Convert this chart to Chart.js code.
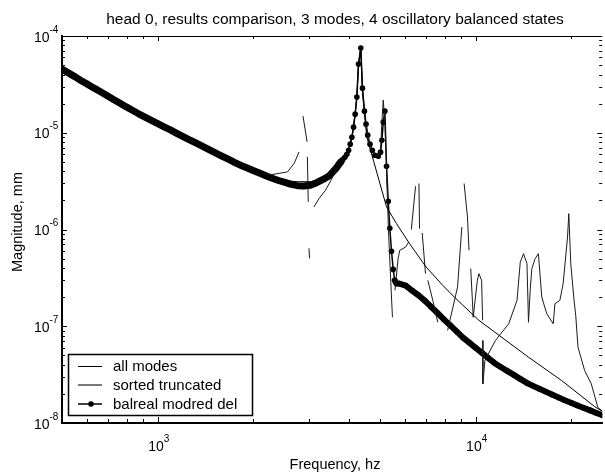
<!DOCTYPE html>
<html>
<head>
<meta charset="utf-8">
<script src="https://cdn.jsdelivr.net/npm/chart.js@4/dist/chart.umd.min.js"></script>
<style>
html,body{margin:0;padding:0;background:#fff;}
#wrap{width:605px;height:475px;position:relative;overflow:hidden;}
</style>
</head>
<body>
<div id="wrap"><canvas id="c" width="605" height="475"></canvas></div>
<script>
// ---------------- data ----------------
const chartTitle = 'head 0, results comparison, 3 modes, 4 oscillatory balanced states';
const xAxisTitle = 'Frequency, hz';
const yAxisTitle = 'Magnitude, mm';
const seriesNames = ['all modes', 'sorted truncated', 'balreal modred del'];

// x tick labels 10^3, 10^4 ; y tick labels 10^-4 .. 10^-8
const xTickValues = [1000, 10000];
const xTickExps = ['3', '4'];
const yTickValues = [1e-4, 1e-5, 1e-6, 1e-7, 1e-8];
const yTickExps = ['-4', '-5', '-6', '-7', '-8'];
const xMinorTicks = [600, 700, 800, 900, 2000, 3000, 4000, 5000, 6000, 7000, 8000, 9000, 20000];
const yMinorTicks = [2e-8,3e-8,4e-8,5e-8,6e-8,7e-8,8e-8,9e-8,
                     2e-7,3e-7,4e-7,5e-7,6e-7,7e-7,8e-7,9e-7,
                     2e-6,3e-6,4e-6,5e-6,6e-6,7e-6,8e-6,9e-6,
                     2e-5,3e-5,4e-5,5e-5,6e-5,7e-5,8e-5,9e-5];

// "all modes"
const freqAll = [500,661,1000,1585,2089,2291,2512,2754,3020,3311,3631,3824,3985,4080,4178,4229,4281,4352,
  4405,4469,4543,4767,4998,5244,5634,6197,6986,7877,8664,10240,14660,18630,23650,25120];
const magAll = [4.53e-5,2.65e-5,1.24e-5,5.78e-6,3.83e-6,3.47e-6,3.19e-6,3.12e-6,3.12e-6,3.29e-6,4.26e-6,5.33e-6,6.60e-6,9.00e-6,1.557e-5,2.336e-5,5.13e-5,7.51e-5,
  2.63e-5,1.63e-5,9.07e-6,5.20e-6,2.99e-6,1.71e-6,1.151e-6,7.14e-7,4.09e-7,2.65e-7,1.93e-7,1.15e-7,4.79e-8,2.75e-8,1.48e-8,1.31e-8];

// "sorted truncated" (null = break in the drawn line)
const freqSorted = [500,661,1000,1585,2089,2270,2559,2685,2783,2820,2864,2950,2952,2956,2975,2982,2990,3003,3050,
  3099,3219,3368,3509,3664,3824,3936,4031,4080,4130,4178,4229,4281,4352,4405,4469,4520,4576,4652,4732,4821,4940,
  5022,5070,5121,5188,5244,5318,5408,5474,5520,5573,5703,5769,6024,6155,6210,6275,6471,6550,6631,6660,6720,
  6790,6953,7010,7072,7331,7598,7900,8161,8770,9046,9120,9196,9422,9530,9590,9647,9766,9822,10123,10240,10440,
  10515,10518,10522,10537,10690,11540,12700,13490,13810,14140,14500,14660,14840,15020,15380,15750,16140,16730,
  17540,17750,18400,18840,19450,19630,19910,20390,20640,20980,22010,23100,24220,25120];
const magSorted = [4.53e-5,2.65e-5,1.24e-5,5.78e-6,3.83e-6,3.68e-6,3.94e-6,4.81e-6,6.34e-6,null,1.485e-5,8.05e-6,null,5.63e-6,1.93e-6,null,6.39e-7,5.03e-7,null,
  1.71e-6,2.10e-6,2.54e-6,3.23e-6,4.41e-6,5.33e-6,6.00e-6,7.62e-6,9.00e-6,1.143e-5,1.557e-5,2.336e-5,5.13e-5,7.51e-5,2.89e-5,1.673e-5,1.227e-5,9.45e-6,7.62e-6,6.60e-6,5.86e-6,5.73e-6,
  6.60e-6,1.287e-5,2.175e-5,1.198e-5,4.10e-6,9.81e-7,2.86e-7,1.24e-7,null,2.35e-7,5.00e-7,6.09e-7,6.59e-7,7.42e-7,null,9.98e-7,2.80e-6,null,2.99e-6,1.02e-6,null,
  9.20e-7,3.50e-7,null,2.98e-7,1.85e-7,1.10e-7,null,9.05e-8,2.54e-7,1.06e-6,null,2.99e-6,1.35e-6,6.09e-7,null,3.94e-7,1.85e-7,1.24e-7,2.98e-7,3.50e-7,2.98e-7,
  1.15e-7,null,7.13e-8,2.54e-8,4.43e-8,7.13e-8,1.06e-7,1.85e-7,4.58e-7,5.63e-7,4.44e-7,1.10e-7,2.35e-7,3.94e-7,5.00e-7,5.63e-7,2.00e-7,1.35e-7,
  1.06e-7,1.71e-7,1.85e-7,2.75e-7,8.36e-7,1.46e-6,4.44e-7,1.85e-7,1.29e-7,6.08e-8,3.49e-8,2.54e-8,1.45e-8,1.31e-8];

// "balreal modred del" (line with dot markers)
const freqBal = [500,525,550,575,603,631,661,692,724,759,794,832,871,912,955,1000,1047,1096,1148,1202,1259,1318,1380,1445,
  1514,1585,1660,1738,1820,1905,1995,2089,2188,2291,2399,2512,2630,2754,2884,3020,3162,3311,3467,3631,
  3664,3716,3770,3824,3879,3936,3985,4031,4080,4130,4178,4229,4281,4352,4405,4469,4520,4576,4652,4732,4821,4940,
  5022,5070,5121,5180,5244,5309,5370,5436,5503,5566,5634,
  5754,6026,6310,6607,6918,7244,7586,7943,8318,8710,9120,9550,10000,10470,10960,11480,12020,12590,13180,13800,
  14450,15140,15850,16600,17380,18200,19050,19950,20890,21880,22910,23990,25120];
const magBal = [4.53e-5,4.13e-5,3.78e-5,3.45e-5,3.16e-5,2.89e-5,2.65e-5,2.43e-5,2.22e-5,2.03e-5,1.86e-5,1.71e-5,1.57e-5,1.45e-5,1.34e-5,1.24e-5,1.15e-5,1.07e-5,9.86e-6,9.13e-6,8.46e-6,7.84e-6,7.27e-6,6.73e-6,
  6.24e-6,5.78e-6,5.36e-6,4.96e-6,4.62e-6,4.34e-6,4.08e-6,3.83e-6,3.60e-6,3.39e-6,3.21e-6,3.07e-6,2.93e-6,2.84e-6,2.81e-6,2.87e-6,3.05e-6,3.29e-6,3.60e-6,4.26e-6,
  4.41e-6,4.73e-6,5.02e-6,5.33e-6,5.59e-6,6.00e-6,6.60e-6,7.62e-6,9.00e-6,1.143e-5,1.557e-5,2.336e-5,5.13e-5,7.51e-5,2.89e-5,1.673e-5,1.227e-5,9.45e-6,7.62e-6,6.60e-6,5.86e-6,5.73e-6,
  6.30e-6,8.38e-6,1.287e-5,1.673e-5,4.51e-6,1.958e-6,1.029e-6,5.95e-7,3.87e-7,2.98e-7,2.77e-7,
  2.76e-7,2.63e-7,2.34e-7,2.09e-7,1.84e-7,1.585e-7,1.37e-7,1.18e-7,1.02e-7,8.84e-8,7.64e-8,6.76e-8,5.99e-8,5.30e-8,4.69e-8,4.15e-8,3.77e-8,3.44e-8,3.14e-8,2.86e-8,
  2.61e-8,2.42e-8,2.26e-8,2.11e-8,1.97e-8,1.84e-8,1.72e-8,1.62e-8,1.52e-8,1.43e-8,1.35e-8,1.27e-8,1.20e-8];

// ---------------- chart ----------------
const FONT = '"Liberation Sans", Arial, Helvetica, sans-serif';
const toPts = (fx, my) => fx.map((f, i) => ({x: f, y: my[i]}));
const isDense = f => f <= 3800 || f >= 5560;

const extras = {
  id: 'extras',
  afterDraw(chart) {
    const ctx = chart.ctx, ca = chart.chartArea, xs = chart.scales.x, ys = chart.scales.y;
    ctx.save();
    ctx.strokeStyle = '#000';
    ctx.fillStyle = '#000';
    // top border
    ctx.lineWidth = 1;
    ctx.beginPath();
    ctx.moveTo(ca.left, ca.top + 0.5); ctx.lineTo(ca.right, ca.top + 0.5);
    ctx.stroke();
    // tick marks (inside)
    ctx.beginPath();
    const seg = (a, b, c, d) => { ctx.moveTo(a, b); ctx.lineTo(c, d); };
    xTickValues.forEach(v => { const x = Math.round(xs.getPixelForValue(v)) + 0.5;
      seg(x, ca.bottom, x, ca.bottom - 6); seg(x, ca.top, x, ca.top + 5); });
    xMinorTicks.forEach(v => { const x = Math.round(xs.getPixelForValue(v)) + 0.5;
      seg(x, ca.bottom, x, ca.bottom - 4); seg(x, ca.top, x, ca.top + 3); });
    yTickValues.forEach(v => { const y = Math.round(ys.getPixelForValue(v)) + 0.5;
      seg(ca.left, y, ca.left + 5, y); seg(ca.right, y, ca.right - 5, y); });
    yMinorTicks.forEach(v => { const y = Math.round(ys.getPixelForValue(v)) + 0.5;
      seg(ca.left, y, ca.left + 3, y); seg(ca.right, y, ca.right - 3, y); });
    ctx.stroke();

    // tick labels with superscripts
    ctx.textBaseline = 'alphabetic';
    const big = '14px ' + FONT, small = '10px ' + FONT;
    xTickValues.forEach((v, i) => {
      const x = xs.getPixelForValue(v);
      ctx.font = big; const w1 = ctx.measureText('10').width;
      ctx.font = small; const w2 = ctx.measureText(xTickExps[i]).width;
      const x0 = x - (w1 + w2) / 2 + 1;
      ctx.font = big; ctx.textAlign = 'left'; ctx.fillText('10', x0, 451);
      ctx.font = small; ctx.fillText(xTickExps[i], x0 + w1, 442);
    });
    yTickValues.forEach((v, i) => {
      const y = ys.getPixelForValue(v);
      ctx.font = big; ctx.textAlign = 'right'; ctx.fillText('10', 49.5, y + 5.5);
      ctx.font = small; ctx.textAlign = 'left'; ctx.fillText(yTickExps[i], 49.5, y - 3.5);
    });

    // title and axis titles
    ctx.textAlign = 'center';
    ctx.font = '15.5px ' + FONT;
    ctx.fillText(chartTitle, 335, 23.5);
    ctx.font = '14.5px ' + FONT;
    ctx.fillText(xAxisTitle, 335, 469);
    ctx.save();
    ctx.translate(22, 222);
    ctx.rotate(-Math.PI / 2);
    ctx.textBaseline = 'alphabetic';
    ctx.fillText(yAxisTitle, 0, 0);
    ctx.restore();

    // legend box
    const L = 68.5, T = 354.5, R = 252.5, B = 415.5;
    ctx.fillStyle = '#fff';
    ctx.fillRect(L, T, R - L, B - T);
    ctx.lineWidth = 1.5; ctx.strokeStyle = '#000';
    ctx.strokeRect(L, T, R - L, B - T);
    const rows = [366.5, 385, 404];
    const styles = [
      {c: '#000', w: 1, dot: false},
      {c: '#7a7a7a', w: 2, dot: false},
      {c: '#000', w: 1.5, dot: true}
    ];
    chart.data.datasets.forEach((ds, i) => {
      const y = rows[i], st = styles[i];
      ctx.strokeStyle = st.c; ctx.lineWidth = st.w;
      ctx.beginPath(); ctx.moveTo(78, y); ctx.lineTo(102, y); ctx.stroke();
      if (st.dot) { ctx.fillStyle = '#000'; ctx.beginPath(); ctx.arc(91, y, 2.8, 0, Math.PI * 2); ctx.fill(); }
      ctx.fillStyle = '#000';
      ctx.font = '15px ' + FONT; ctx.textAlign = 'left'; ctx.textBaseline = 'middle';
      ctx.fillText(ds.label, 113, y + 0.5);
    });
    ctx.restore();
  }
};

new Chart(document.getElementById('c'), {
  type: 'scatter',
  data: {
    datasets: [
      { label: seriesNames[0], data: toPts(freqAll, magAll), showLine: true,
        borderColor: '#000', borderWidth: 1, pointRadius: 0, pointHoverRadius: 0, spanGaps: false },
      { label: seriesNames[1], data: toPts(freqSorted, magSorted), showLine: true,
        borderColor: '#1a1a1a', borderWidth: 1, pointRadius: 0, pointHoverRadius: 0, spanGaps: false },
      { label: seriesNames[2], data: toPts(freqBal, magBal), showLine: true,
        borderColor: '#000', borderWidth: 1.5, borderJoinStyle: 'round', borderCapStyle: 'round',
        pointRadius: 2.8, pointHoverRadius: 0, pointBackgroundColor: '#000', pointBorderWidth: 0,
        segment: { borderWidth: c => (isDense(c.p0.parsed.x) && isDense(c.p1.parsed.x)) ? (c.p0.parsed.x < 4000 ? 7 : 6) : 1.5 } }
    ]
  },
  options: {
    responsive: false, animation: false, devicePixelRatio: 1, events: [],
    layout: { padding: { top: 36, right: -3, bottom: 0, left: 0 } },
    plugins: { legend: { display: false }, title: { display: false }, tooltip: { enabled: false } },
    scales: {
      x: { type: 'logarithmic', position: 'bottom', min: 500, max: 25000,
           ticks: { display: false }, grid: { display: false, drawTicks: false },
           border: { display: true, width: 2, color: '#000' },
           afterFit: s => { s.height = 52; } },
      y: { type: 'logarithmic', position: 'left', min: 1e-8, max: 1e-4,
           ticks: { display: false }, grid: { display: false, drawTicks: false },
           border: { display: true, width: 2, color: '#000' },
           afterFit: s => { s.width = 62; } }
    }
  },
  plugins: [extras]
});
</script>
</body>
</html>
